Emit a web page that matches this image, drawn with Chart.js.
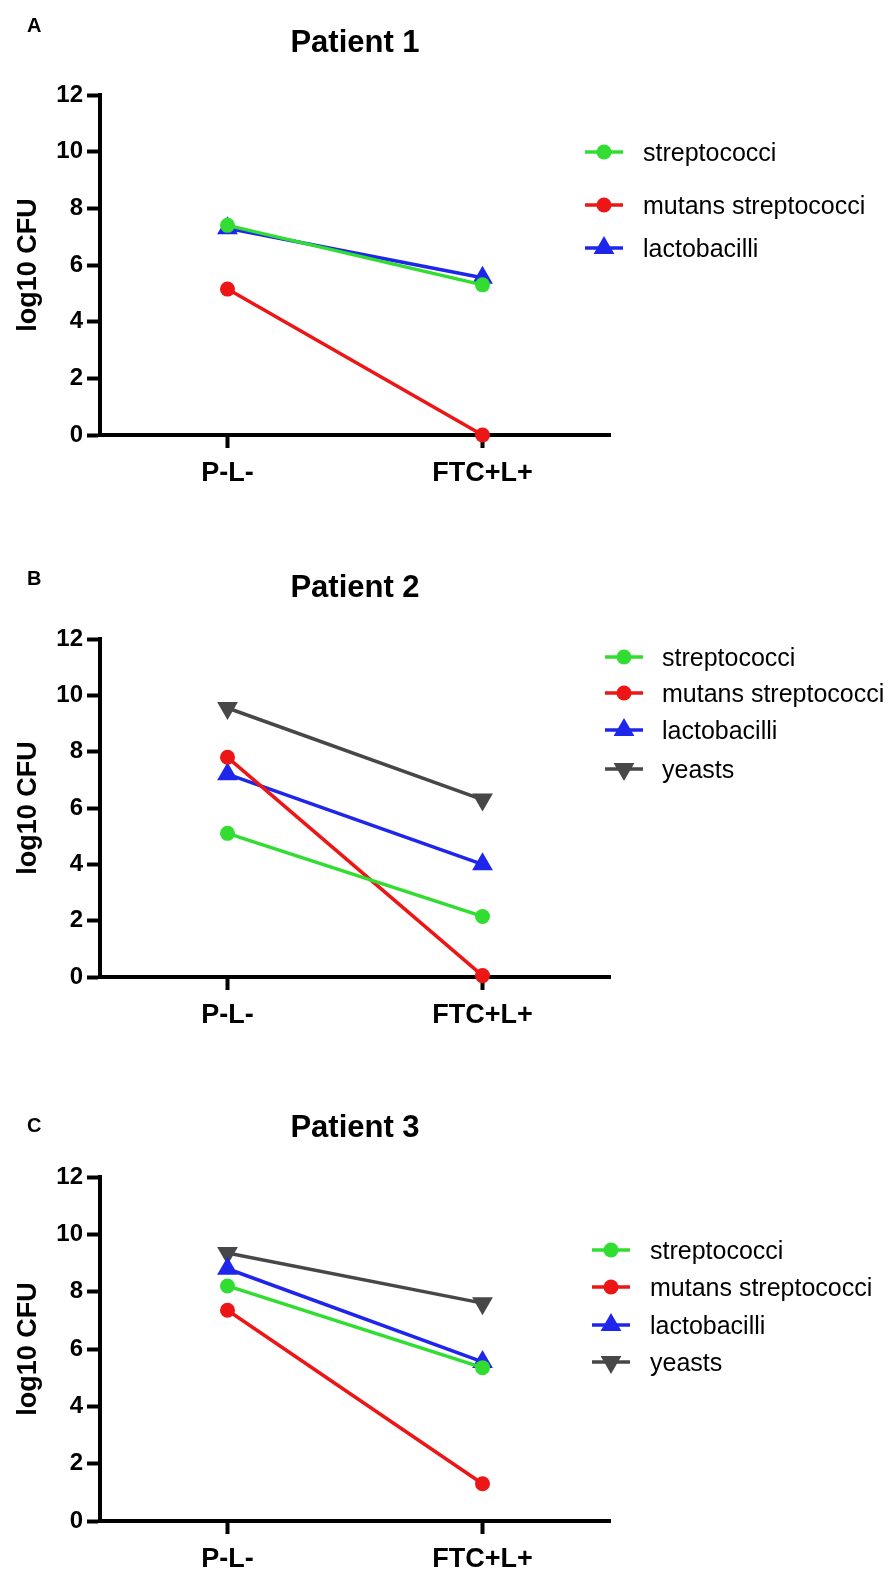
<!DOCTYPE html>
<html>
<head>
<meta charset="utf-8">
<script src="https://cdn.jsdelivr.net/npm/chart.js@4.4.1/dist/chart.umd.min.js"></script>
<style>
  body { margin: 0; background: #fff; width: 890px; height: 1569px; position: relative; overflow: hidden;
         font-family: "Liberation Sans", Arial, sans-serif; color: #000; }
  .panel { position: absolute; left: 0; width: 890px; }
  .panel > canvas { position: absolute; left: 0; top: 0; }
  .letter { position: absolute; font-weight: bold; font-size: 20px; transform: translateY(-50%); }
  .title { position: absolute; font-weight: bold; font-size: 31px; transform: translate(-50%, -50%); white-space: nowrap; }
  .icon { position: absolute; transform: translateY(-50%); }
  .ltext { position: absolute; font-size: 25px; white-space: nowrap; transform: translateY(-50%); }
</style>
</head>
<body>
<script>
// categories and series
const categories = ['P-L-', 'FTC+L+'];
const seriesNames = ['streptococci', 'mutans streptococci', 'lactobacilli', 'yeasts'];

const p1Strep  = [7.4, 5.3];
const p1Mutans = [5.15, 0];
const p1Lacto  = [7.3, 5.55];

const p2Strep  = [5.1, 2.15];
const p2Mutans = [7.8, 0.05];
const p2Lacto  = [7.2, 4.0];
const p2Yeasts = [9.55, 6.3];

const p3Strep  = [8.2, 5.35];
const p3Mutans = [7.35, 1.3];
const p3Lacto  = [8.8, 5.55];
const p3Yeasts = [9.35, 7.6];

const yMin = 0, yMax = 12, yStep = 2;

// styles
const colors  = ['#30dd30', '#ec1616', '#1f26ec', '#474747'];
const markers = ['circle', 'circle', 'triangle', 'triangleDown'];
const FONT = '"Liberation Sans", Arial, sans-serif';

// layout of the three panels (page px)
const panels = [
  { letter: 'A', title: 'Patient 1', top: 0, height: 520, plotTop: 95, plotBottom: 435,
    letterY: 25, titleY: 42, series: [p1Strep, p1Mutans, p1Lacto],
    iconX: 585, textX: 643, rows: [152, 205, 248] },
  { letter: 'B', title: 'Patient 2', top: 520, height: 540, plotTop: 119, plotBottom: 457,
    letterY: 58, titleY: 67, series: [p2Strep, p2Mutans, p2Lacto, p2Yeasts],
    iconX: 605, textX: 662, rows: [137, 173, 210, 249] },
  { letter: 'C', title: 'Patient 3', top: 1060, height: 509, plotTop: 117, plotBottom: 461,
    letterY: 65, titleY: 67, series: [p3Strep, p3Mutans, p3Lacto, p3Yeasts],
    iconX: 592, textX: 650, rows: [190, 227, 265, 302] }
];

const AXIS_LEFT = 100, AXIS_RIGHT = 610;

function drawMarker(ctx, kind, x, y, color) {
  ctx.fillStyle = color;
  ctx.beginPath();
  if (kind === 'circle') {
    ctx.arc(x, y, 7.5, 0, Math.PI * 2);
  } else {
    const r = 12, dir = kind === 'triangle' ? -1 : 1;
    ctx.moveTo(x, y + dir * r);
    ctx.lineTo(x - r * 0.866, y - dir * r / 2);
    ctx.lineTo(x + r * 0.866, y - dir * r / 2);
    ctx.closePath();
  }
  ctx.fill();
}

function legendIcon(kind, color) {
  const c = document.createElement('canvas');
  c.width = 38; c.height = 28;
  const ctx = c.getContext('2d');
  ctx.strokeStyle = color;
  ctx.lineWidth = 3.5;
  ctx.beginPath();
  ctx.moveTo(0, 14); ctx.lineTo(38, 14);
  ctx.stroke();
  drawMarker(ctx, kind, 19, 14, color);
  return c;
}

panels.forEach(p => {
  const div = document.createElement('div');
  div.className = 'panel';
  div.style.top = p.top + 'px';
  div.style.height = p.height + 'px';
  document.body.appendChild(div);

  const canvas = document.createElement('canvas');
  canvas.width = 890; canvas.height = p.height;
  canvas.style.width = '890px'; canvas.style.height = p.height + 'px';
  div.appendChild(canvas);

  const letter = document.createElement('div');
  letter.className = 'letter';
  letter.textContent = p.letter;
  letter.style.left = '27px';
  letter.style.top = p.letterY + 'px';
  div.appendChild(letter);

  const title = document.createElement('div');
  title.className = 'title';
  title.textContent = p.title;
  title.style.left = ((AXIS_LEFT + AXIS_RIGHT) / 2) + 'px';
  title.style.top = p.titleY + 'px';
  div.appendChild(title);

  p.series.forEach((vals, i) => {
    const icon = legendIcon(markers[i], colors[i]);
    icon.className = 'icon';
    icon.style.left = p.iconX + 'px';
    icon.style.top = p.rows[i] + 'px';
    div.appendChild(icon);
    const t = document.createElement('div');
    t.className = 'ltext';
    t.textContent = seriesNames[i];
    t.style.left = p.textX + 'px';
    t.style.top = p.rows[i] + 'px';
    div.appendChild(t);
  });

  const datasets = p.series.map((vals, i) => ({
    label: seriesNames[i],
    data: vals,
    borderColor: colors[i],
    backgroundColor: colors[i],
    pointBackgroundColor: colors[i],
    pointBorderColor: colors[i],
    pointBorderWidth: 0,
    borderWidth: 3.5,
    pointStyle: markers[i] === 'circle' ? 'circle' : 'triangle',
    rotation: markers[i] === 'triangleDown' ? 180 : 0,
    pointRadius: markers[i] === 'circle' ? 7.5 : 12,
    tension: 0,
    clip: false
  }));

  const axisGrid = { display: true, drawOnChartArea: false, drawTicks: true, tickLength: 13, tickWidth: 4, tickColor: '#000' };
  const axisBorder = { display: true, color: '#000', width: 4 };

  new Chart(canvas.getContext('2d'), {
    type: 'line',
    data: { labels: categories, datasets: datasets },
    options: {
      responsive: false,
      animation: false,
      layout: { padding: { top: p.plotTop, left: 0, right: 890 - AXIS_RIGHT, bottom: 0 } },
      plugins: { legend: { display: false }, tooltip: { enabled: false }, title: { display: false } },
      scales: {
        x: {
          offset: true,
          grid: axisGrid,
          border: axisBorder,
          ticks: { color: '#000', padding: 9, font: { family: FONT, size: 27, weight: 'bold' } },
          afterFit: s => { s.height = p.height - p.plotBottom; }
        },
        y: {
          min: yMin, max: yMax,
          grid: axisGrid,
          border: axisBorder,
          ticks: { stepSize: yStep, color: '#000', padding: 4, font: { family: FONT, size: 24, weight: 'bold' } },
          title: { display: true, text: 'log10 CFU', color: '#000', padding: { top: 12 },
                   font: { family: FONT, size: 27, weight: 'bold' } },
          afterFit: s => { s.width = AXIS_LEFT; }
        }
      }
    }
  });
});
</script>
</body>
</html>
